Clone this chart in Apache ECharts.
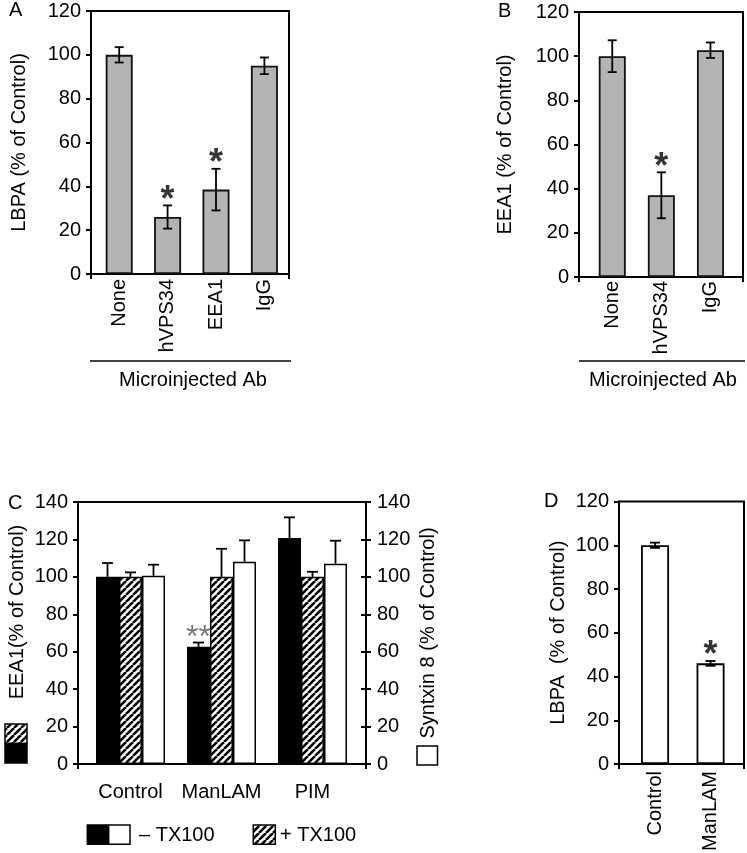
<!DOCTYPE html>
<html>
<head>
<meta charset="utf-8">
<script src="https://cdn.jsdelivr.net/npm/echarts@6/dist/echarts.min.js"></script>
<style>
  html, body { margin: 0; padding: 0; background: #fff; }
  #chart { width: 747px; height: 853px; }
</style>
</head>
<body>
<div id="chart"></div>
<script>
// A: LBPA after microinjection
const catsA = ['None', 'hVPS34', 'EEA1', 'IgG'];
const lbpaA = [100, 26, 38.5, 95];
const lbpaErrA = [3.5, 5.3, 9.5, 3.8];
const sigA = ['', '*', '*', ''];

// B: EEA1 after microinjection
const catsB = ['None', 'hVPS34', 'IgG'];
const eea1B = [100, 37, 102.7];
const eea1ErrB = [7.2, 10.4, 3.5];
const sigB = ['', '*', ''];

// C: EEA1 (-/+ TX100) and syntaxin 8
const catsC = ['Control', 'ManLAM', 'PIM'];
const eea1MinusC = [100, 62.6, 120.7];
const eea1MinusErrC = [7.4, 2.3, 11.1];
const eea1PlusC = [100, 100, 100];
const eea1PlusErrC = [2.4, 15, 2.7];
const syntaxinC = [100.6, 108.1, 107];
const syntaxinErrC = [5.9, 11.4, 12.3];
const sigC = ['', '**', ''];

// D: LBPA with ManLAM
const catsD = ['Control', 'ManLAM'];
const lbpaD = [100, 46];
const lbpaErrD = [1.2, 1.1];
const sigD = ['', '*'];

const yMax = 120;
const yMaxC = 140;
const yStep = 20;

const FONT = "'Liberation Sans', Arial, sans-serif";
const black = '#000';

function makeHatch() {
    const s = 7;
    const c = document.createElement('canvas');
    c.width = s; c.height = s;
    const g = c.getContext('2d');
    g.fillStyle = '#fff';
    g.fillRect(0, 0, s, s);
    g.strokeStyle = '#000';
    g.lineWidth = 2.6;
    g.beginPath();
    [-s, 0, s].forEach(x0 => { g.moveTo(x0, s); g.lineTo(x0 + s, 0); });
    g.stroke();
    return c;
}
const hatch = { image: makeHatch(), repeat: 'repeat' };

const grids = [], xAxes = [], yAxes = [], series = [];

// frame grid: box + y axis with ticks
function addFrame(box, max, yName, nameGap) {
    const gi = grids.length;
    grids.push({ left: box[0], top: box[1], width: box[2], height: box[3], show: true,
        borderColor: black, borderWidth: 2, backgroundColor: 'transparent', outerBoundsMode: 'none' });
    xAxes.push({ gridIndex: gi, type: 'value', min: 0, max: 1, interval: 1,
        axisLine: { show: true, lineStyle: { color: black, width: 2 } },
        axisTick: { show: true, length: 5, lineStyle: { color: black, width: 2 } },
        axisLabel: { show: false }, splitLine: { show: false } });
    yAxes.push({ gridIndex: gi, type: 'value', min: 0, max: max, interval: yStep,
        axisLine: { show: true, lineStyle: { color: black, width: 2 } },
        axisTick: { show: true, length: 5, lineStyle: { color: black, width: 2 } },
        axisLabel: { color: black, fontSize: 20, fontFamily: FONT, margin: 10 },
        splitLine: { show: false },
        name: yName, nameLocation: 'middle', nameGap: nameGap, nameRotate: 90, nameMoveOverlap: false,
        nameTextStyle: { color: black, fontSize: 20, fontFamily: FONT } });
    return gi;
}

// data grid: holds the bars, shares the frame's vertical extent
function addData(box, cats, max, label) {
    const gi = grids.length;
    grids.push({ left: box[0], top: box[1], width: box[2], height: box[3], show: false, outerBoundsMode: 'none' });
    const xi = xAxes.length;
    xAxes.push({ gridIndex: gi, type: 'category', data: cats,
        axisLine: { show: false }, axisTick: { show: false }, splitLine: { show: false },
        axisLabel: Object.assign({ color: black, fontSize: 20, fontFamily: FONT, interval: 0 }, label) });
    const yi = yAxes.length;
    yAxes.push({ gridIndex: gi, type: 'value', min: 0, max: max, show: false });
    return [xi, yi];
}

function errorSeries(ax, vals, errs, cap, shift, oneSided) {
    return {
        type: 'custom', xAxisIndex: ax[0], yAxisIndex: ax[1], z: 5, silent: true,
        data: vals.map((v, i) => [i, v, errs[i]]),
        renderItem: (params, api) => {
            const i = api.value(0), v = api.value(1), e = api.value(2);
            const top = api.coord([i, v + e]);
            const bot = api.coord([i, oneSided ? v : v - e]);
            const x = top[0] + shift;
            const ls = { stroke: black, lineWidth: 1.8 };
            const kids = [
                { type: 'line', shape: { x1: x, y1: top[1], x2: x, y2: bot[1] }, style: ls },
                { type: 'line', shape: { x1: x - cap, y1: top[1], x2: x + cap, y2: top[1] }, style: ls }
            ];
            if (!oneSided) kids.push({ type: 'line', shape: { x1: x - cap, y1: bot[1], x2: x + cap, y2: bot[1] }, style: ls });
            return { type: 'group', children: kids };
        }
    };
}

function sigSeries(ax, sig, vals, errs, shift, style) {
    const data = [];
    sig.forEach((s, i) => { if (s) data.push([i, vals[i] + errs[i], s]); });
    return {
        type: 'scatter', xAxisIndex: ax[0], yAxisIndex: ax[1], z: 6, silent: true,
        symbolSize: 1, itemStyle: { color: 'rgba(0,0,0,0)' },
        data: data,
        label: { show: true, position: 'top', distance: 0, formatter: p => p.value[2],
            fontFamily: FONT, fontSize: style.size, fontWeight: style.weight, color: style.color,
            offset: [shift, style.dy] }
    };
}

const grayBar = { color: '#b4b4b4', borderColor: '#111', borderWidth: 1.8 };
const starBold = { size: 36, weight: 'bold', color: black, dy: 14 };

// ---- A
addFrame([91, 11, 198, 263], yMax, 'LBPA (% of Control)', 62);
const axA = addData([95, 11, 193.6, 263], catsA, yMax, { rotate: 90, margin: 5 });
series.push({ type: 'bar', name: 'LBPA', xAxisIndex: axA[0], yAxisIndex: axA[1], data: lbpaA,
    barWidth: 27, itemStyle: grayBar });
series.push(errorSeries(axA, lbpaA, lbpaErrA, 4.5, 0, false));
series.push(sigSeries(axA, sigA, lbpaA, lbpaErrA, 0, starBold));

// ---- B
addFrame([579, 12, 164, 265], yMax, 'EEA1 (% of Control)', 64);
const axB = addData([587.7, 12, 147.3, 265], catsB, yMax, { rotate: 90, margin: 4 });
series.push({ type: 'bar', name: 'EEA1', xAxisIndex: axB[0], yAxisIndex: axB[1], data: eea1B,
    barWidth: 27, itemStyle: grayBar });
series.push(errorSeries(axB, eea1B, eea1ErrB, 4.5, 0, false));
series.push(sigSeries(axB, sigB, eea1B, eea1ErrB, 0, starBold));

// ---- C
const giC = addFrame([78, 502, 288, 262], yMaxC, '', 0);
yAxes.push({ gridIndex: giC, type: 'value', position: 'right', min: 0, max: yMaxC, interval: yStep,
    axisLine: { show: true, lineStyle: { color: black, width: 2 } },
    axisTick: { show: true, length: 5, lineStyle: { color: black, width: 2 } },
    axisLabel: { color: black, fontSize: 20, fontFamily: FONT, margin: 11 },
    splitLine: { show: false },
    name: 'Syntxin 8 (% of Control)', nameLocation: 'middle', nameGap: 52, nameRotate: 90, nameMoveOverlap: false,
    nameTextStyle: { color: black, fontSize: 20, fontFamily: FONT } });
yAxes.push({ gridIndex: giC, type: 'value', position: 'right', min: 0, max: yMaxC, interval: yStep,
    axisLine: { show: false },
    axisTick: { show: true, inside: true, length: 5, lineStyle: { color: black, width: 2 } },
    axisLabel: { show: false }, splitLine: { show: false } });
const axC = addData([85, 502, 273, 262], catsC, yMaxC, { margin: 18 });
const barW = 23;
series.push({ type: 'bar', name: 'EEA1 − TX100', xAxisIndex: axC[0], yAxisIndex: axC[1], data: eea1MinusC,
    barWidth: barW, barGap: '0%', itemStyle: { color: black, borderColor: black, borderWidth: 1.5 } });
series.push({ type: 'bar', name: 'EEA1 + TX100', xAxisIndex: axC[0], yAxisIndex: axC[1], data: eea1PlusC,
    barWidth: barW, barGap: '0%', itemStyle: { color: hatch, borderColor: black, borderWidth: 1.5 } });
series.push({ type: 'bar', name: 'Syntaxin 8 − TX100', xAxisIndex: axC[0], yAxisIndex: axC[1], data: syntaxinC,
    barWidth: barW, barGap: '0%', itemStyle: { color: '#fff', borderColor: black, borderWidth: 1.5 } });
series.push(errorSeries(axC, eea1MinusC, eea1MinusErrC, 5.5, -barW, true));
series.push(errorSeries(axC, eea1PlusC, eea1PlusErrC, 5.5, 0, true));
series.push(errorSeries(axC, syntaxinC, syntaxinErrC, 5.5, barW, true));
series.push(sigSeries(axC, sigC, eea1MinusC, eea1MinusErrC, -barW, { size: 32, weight: 'normal', color: '#555', dy: 12 }));

// ---- D
addFrame([619, 501.5, 125, 262.5], yMax, 'LBPA  (% of Control)', 51);
const axD = addData([627.3, 501.5, 111, 262.5], catsD, yMax, { rotate: 90, margin: 7 });
series.push({ type: 'bar', name: 'LBPA', xAxisIndex: axD[0], yAxisIndex: axD[1], data: lbpaD,
    barWidth: 28, itemStyle: { color: '#fff', borderColor: black, borderWidth: 1.8 } });
series.push(errorSeries(axD, lbpaD, lbpaErrD, 5, 0, false));
series.push(sigSeries(axD, sigD, lbpaD, lbpaErrD, 0, starBold));

const txt = (x, y, text, extra) => ({ type: 'text', x: x, y: y, silent: true,
    style: Object.assign({ text: text, fill: black, font: '20px ' + FONT, textAlign: 'left', textVerticalAlign: 'middle' }, extra) });
const box = (x, y, w, h, fill) => ({ type: 'rect', silent: true, shape: { x: x, y: y, width: w, height: h },
    style: { fill: fill, stroke: black, lineWidth: 1.5 } });

const graphics = [
    txt(9, 10, 'A'),
    txt(498, 11, 'B'),
    txt(8, 503.5, 'C'),
    txt(544, 501.5, 'D'),
    { type: 'line', silent: true, shape: { x1: 90, y1: 361, x2: 291, y2: 361 }, style: { stroke: black, lineWidth: 1.5 } },
    txt(193, 380, 'Microinjected Ab', { textAlign: 'center' }),
    { type: 'line', silent: true, shape: { x1: 579, y1: 361, x2: 745, y2: 361 }, style: { stroke: black, lineWidth: 1.5 } },
    txt(663, 380, 'Microinjected Ab', { textAlign: 'center' }),
    Object.assign(txt(0, 0, 'EEA1(% of Control)', { textAlign: 'center' }), { x: 17.5, y: 612, rotation: Math.PI / 2 }),
    box(5, 724, 22, 19.5, hatch),
    box(5, 743.5, 22, 19.5, black),
    box(417, 746, 20.5, 19, '#fff'),
    box(87.3, 825, 21.4, 19.3, black),
    box(108.7, 825, 21.3, 19.3, '#fff'),
    txt(139, 835, '– TX100'),
    box(253.3, 825, 22, 19.3, hatch),
    txt(280, 835, '+ TX100')
];

const chart = echarts.init(document.getElementById('chart'));
chart.setOption({
    animation: false,
    backgroundColor: '#fff',
    textStyle: { fontFamily: FONT },
    grid: grids,
    xAxis: xAxes,
    yAxis: yAxes,
    series: series,
    graphic: graphics
});
</script>
</body>
</html>
